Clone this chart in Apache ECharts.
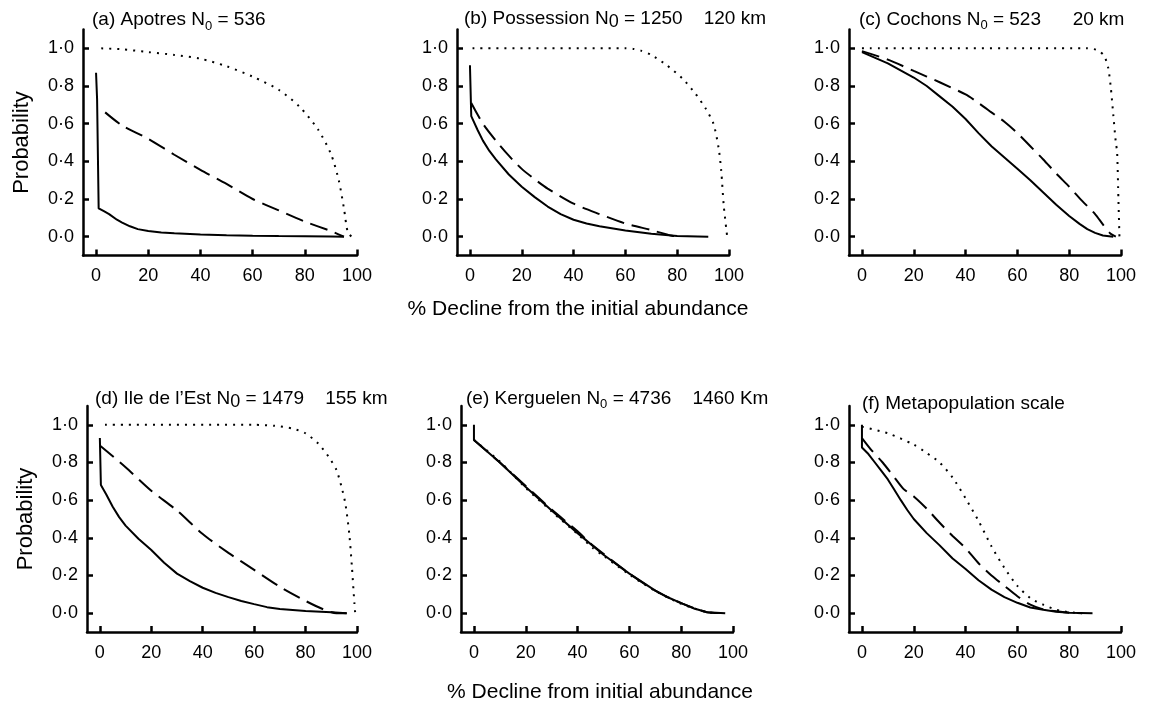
<!DOCTYPE html>
<html>
<head>
<meta charset="utf-8">
<script src="https://cdn.jsdelivr.net/npm/echarts@6/dist/echarts.min.js"></script>
<style>
  html, body { margin: 0; padding: 0; background: #fff; }
  #chart { width: 1152px; height: 704px; }
</style>
</head>
<body>
<div id="chart"></div>
<script>
// tick values shared by all six panels
const xTicks = [0, 20, 40, 60, 80, 100];
const yTicks = [0, 0.2, 0.4, 0.6, 0.8, 1.0];

// (a) Apotres
const apotresSolid = [[0, 0.87], [0.4, 0.73], [0.8, 0.72], [1, 0.15], [3, 0.135], [5, 0.12], [8, 0.09], [10, 0.075], [13, 0.055], [16, 0.04], [20, 0.03], [25, 0.022], [30, 0.018], [40, 0.012], [50, 0.008], [60, 0.005], [70, 0.003], [80, 0.002], [90, 0.001], [95, 0]];
const apotresDashed = [[3.5, 0.66], [10, 0.59], [20, 0.52], [30, 0.435], [40, 0.355], [50, 0.28], [60, 0.2], [70, 0.14], [80, 0.08], [90, 0.03], [95, 0]];
const apotresDotted = [[2, 1.0], [10, 0.995], [20, 0.98], [30, 0.965], [40, 0.945], [50, 0.905], [60, 0.85], [70, 0.78], [78, 0.69], [85, 0.57], [90, 0.44], [93, 0.3], [95, 0.15], [96.5, 0.02], [98, 0]];

// (b) Possession
const possessionSolid = [[0, 0.91], [0.5, 0.64], [3, 0.565], [5, 0.51], [7.5, 0.455], [10, 0.41], [15, 0.33], [20, 0.265], [25, 0.21], [30, 0.16], [35, 0.12], [40, 0.09], [45, 0.07], [50, 0.055], [60, 0.033], [70, 0.015], [80, 0.003], [92, 0]];
const possessionDashed = [[0.5, 0.71], [5, 0.6], [10, 0.51], [15, 0.43], [20, 0.36], [25, 0.305], [30, 0.255], [40, 0.175], [50, 0.12], [60, 0.07], [70, 0.035], [78, 0.005], [82, 0]];
const possessionDotted = [[1, 1], [60, 1], [63, 0.997], [66, 0.988], [70, 0.965], [76, 0.91], [82, 0.84], [87, 0.76], [91, 0.68], [94, 0.6], [96, 0.47], [97, 0.35], [98, 0.16], [99.3, 0]];

// (c) Cochons
const cochonsSolid = [[0, 0.98], [10, 0.92], [20, 0.845], [25, 0.8], [30, 0.745], [35, 0.69], [40, 0.625], [45, 0.55], [50, 0.48], [55, 0.42], [60, 0.36], [65, 0.3], [70, 0.235], [75, 0.17], [80, 0.11], [84, 0.068], [87, 0.04], [90, 0.02], [93, 0.006], [97, 0]];
const cochonsDashed = [[0, 0.985], [10, 0.94], [20, 0.88], [30, 0.82], [40, 0.755], [45, 0.71], [50, 0.66], [55, 0.61], [60, 0.55], [65, 0.48], [70, 0.41], [75, 0.335], [80, 0.265], [85, 0.19], [90, 0.12], [93, 0.065], [96, 0.015], [98, 0]];
const cochonsDotted = [[0, 1], [87, 1], [91, 0.99], [93.5, 0.96], [95, 0.9], [96, 0.8], [97, 0.65], [98, 0.5], [98.5, 0.45], [99, 0.2], [99.4, 0]];

// (d) Ile de l'Est
const estSolid = [[0, 0.93], [0.4, 0.68], [2.5, 0.63], [5, 0.565], [7.5, 0.51], [10, 0.465], [15, 0.395], [20, 0.335], [25, 0.268], [30, 0.21], [35, 0.17], [40, 0.135], [45, 0.108], [50, 0.085], [55, 0.065], [60, 0.048], [65, 0.032], [70, 0.022], [80, 0.012], [90, 0.005], [96, 0]];
const estDashed = [[0, 0.89], [10, 0.775], [20, 0.65], [30, 0.545], [40, 0.42], [50, 0.32], [60, 0.23], [70, 0.14], [80, 0.065], [87, 0.02], [92, 0], [96, 0]];
const estDotted = [[2, 1], [60, 1], [68, 0.995], [75, 0.98], [80, 0.955], [85, 0.9], [89, 0.83], [92, 0.76], [94, 0.67], [95.5, 0.58], [97, 0.42], [98, 0.25], [99, 0.05], [99.3, 0]];

// (e) Kerguelen
const kerguelenSolid = [[0, 1.0], [0, 0.92], [10, 0.8], [20, 0.67], [30, 0.545], [40, 0.425], [50, 0.31], [60, 0.21], [70, 0.12], [75, 0.083], [80, 0.053], [85, 0.025], [90, 0.005], [97, 0]];
const kerguelenDashed = [[0, 0.92], [10, 0.8], [20, 0.675], [30, 0.55], [40, 0.435], [45, 0.37], [50, 0.315], [60, 0.21], [70, 0.12], [80, 0.053], [90, 0.005], [97, 0]];
const kerguelenDotted = [[0, 0.92], [10, 0.805], [20, 0.665], [30, 0.54], [40, 0.42], [46, 0.345], [50, 0.305], [60, 0.205], [70, 0.118], [80, 0.05], [90, 0.005], [97, 0]];

// (f) Metapopulation scale
const metaSolid = [[0, 1.0], [0, 0.88], [2.5, 0.845], [5, 0.8], [7.5, 0.755], [10, 0.71], [12.5, 0.655], [15, 0.6], [17.5, 0.548], [20, 0.5], [25, 0.425], [30, 0.36], [35, 0.29], [40, 0.235], [45, 0.175], [50, 0.125], [55, 0.085], [60, 0.055], [65, 0.03], [70, 0.018], [75, 0.008], [80, 0.002], [89, 0]];
const metaDashed = [[0, 0.93], [4, 0.86], [8, 0.8], [12, 0.73], [16, 0.66], [20, 0.62], [25, 0.555], [30, 0.48], [35, 0.41], [40, 0.345], [45, 0.265], [50, 0.2], [55, 0.145], [60, 0.09], [65, 0.045], [70, 0.02], [75, 0.01], [80, 0.002], [85, 0]];
const metaDotted = [[0, 0.99], [10, 0.955], [20, 0.895], [25, 0.85], [30, 0.8], [35, 0.72], [40, 0.61], [45, 0.49], [50, 0.355], [55, 0.24], [60, 0.145], [65, 0.08], [70, 0.045], [75, 0.018], [80, 0.005], [85, 0]];

const panelTitles = [
    '{t|(a) Apotres N}{sub|0}{t| = 536}',
    '{t|(b) Possession N}{big|0}{t| = 1250    120 km}',
    '{t|(c) Cochons N}{sub|0}{t| = 523      20 km}',
    '{t|(d) Ile de l\u2019Est N}{big|0}{t| = 1479    155 km}',
    '{t|(e) Kerguelen N}{sub|0}{t| = 4736    1460 Km}',
    '{t|(f) Metapopulation scale}'
];
const panelLines = [
    [apotresSolid, apotresDashed, apotresDotted],
    [possessionSolid, possessionDashed, possessionDotted],
    [cochonsSolid, cochonsDashed, cochonsDotted],
    [estSolid, estDashed, estDotted],
    [kerguelenSolid, kerguelenDashed, kerguelenDotted],
    [metaSolid, metaDashed, metaDotted]
];

const font = 'Liberation Sans, Arial, Helvetica, sans-serif';

// plot boxes, px
const boxes = [
    {left: 83, top: 29.5, width: 274},
    {left: 457, top: 29.5, width: 272},
    {left: 849, top: 29.5, width: 272},
    {left: 87, top: 406, width: 270},
    {left: 461, top: 406, width: 272},
    {left: 849, top: 406, width: 272}
];
const titlePos = [[92, 10.5], [464, 9], [859, 10], [95, 389], [466, 389], [862, 394]];

let grids = [], xAxes = [], yAxes = [], titles = [], series = [];

boxes.forEach((b, i) => {
    grids.push({left: b.left, top: b.top, width: b.width, height: 226, outerBoundsMode: 'none'});
    xAxes.push({
        gridIndex: i,
        type: 'value',
        min: -5,
        max: 100,
        axisLine: {onZero: false, lineStyle: {color: '#000', width: 2.5}},
        axisTick: {inside: true, length: 6, customValues: xTicks, lineStyle: {color: '#000', width: 2.5}},
        axisLabel: {customValues: xTicks, margin: 12, color: '#000', fontSize: 18, fontFamily: font},
        splitLine: {show: false}
    });
    yAxes.push({
        gridIndex: i,
        type: 'value',
        min: -0.1,
        max: 1.1,
        name: (i % 3 === 0) ? 'Probability' : '',
        nameLocation: 'middle',
        nameGap: 50,
        nameTextStyle: {color: '#000', fontSize: 22, fontFamily: font},
        axisLine: {onZero: false, lineStyle: {color: '#000', width: 2.5}},
        axisTick: {inside: true, length: 6, customValues: yTicks, lineStyle: {color: '#000', width: 2.5}},
        axisLabel: {
            customValues: yTicks,
            margin: 9,
            color: '#000',
            fontSize: 18,
            fontFamily: font,
            formatter: v => v.toFixed(1).replace('.', '\u00b7')
        },
        splitLine: {show: false}
    });
    titles.push({
        left: titlePos[i][0],
        top: titlePos[i][1],
        padding: 0,
        text: panelTitles[i],
        textStyle: {
            color: '#000',
            fontWeight: 'normal',
            fontFamily: font,
            rich: {
                t: {fontSize: 19, lineHeight: 22, verticalAlign: 'top', color: '#000', fontFamily: font},
                sub: {fontSize: 13, lineHeight: 13, padding: [10, 0, 0, 0], verticalAlign: 'bottom', color: '#000', fontFamily: font},
                big: {fontSize: 18, lineHeight: 18, padding: [8, 0, 0, 0], verticalAlign: 'bottom', color: '#000', fontFamily: font}
            }
        }
    });
    const styles = [
        {type: 'solid', width: 2},
        {type: [18, 8], width: 2},
        {type: [2, 6], width: 2}
    ];
    panelLines[i].forEach((d, k) => {
        series.push({
            type: 'line',
            xAxisIndex: i,
            yAxisIndex: i,
            data: d,
            showSymbol: false,
            symbol: 'none',
            smooth: k === 0 ? false : 0.25,
            lineStyle: Object.assign({color: '#000', cap: 'butt'}, styles[k]),
            z: 3 - k
        });
    });
});

let chart = echarts.init(document.getElementById('chart'));
chart.setOption({
    animation: false,
    backgroundColor: '#fff',
    title: titles,
    grid: grids,
    xAxis: xAxes,
    yAxis: yAxes,
    series: series,
    graphic: [
        {
            type: 'text',
            style: {x: 578, y: 309, text: '% Decline from the initial abundance', fill: '#000',
                font: '21px ' + font, textAlign: 'center', textVerticalAlign: 'middle'}
        },
        {
            type: 'text',
            style: {x: 600, y: 692, text: '% Decline from initial abundance', fill: '#000',
                font: '21px ' + font, textAlign: 'center', textVerticalAlign: 'middle'}
        }
    ]
});
</script>
</body>
</html>
